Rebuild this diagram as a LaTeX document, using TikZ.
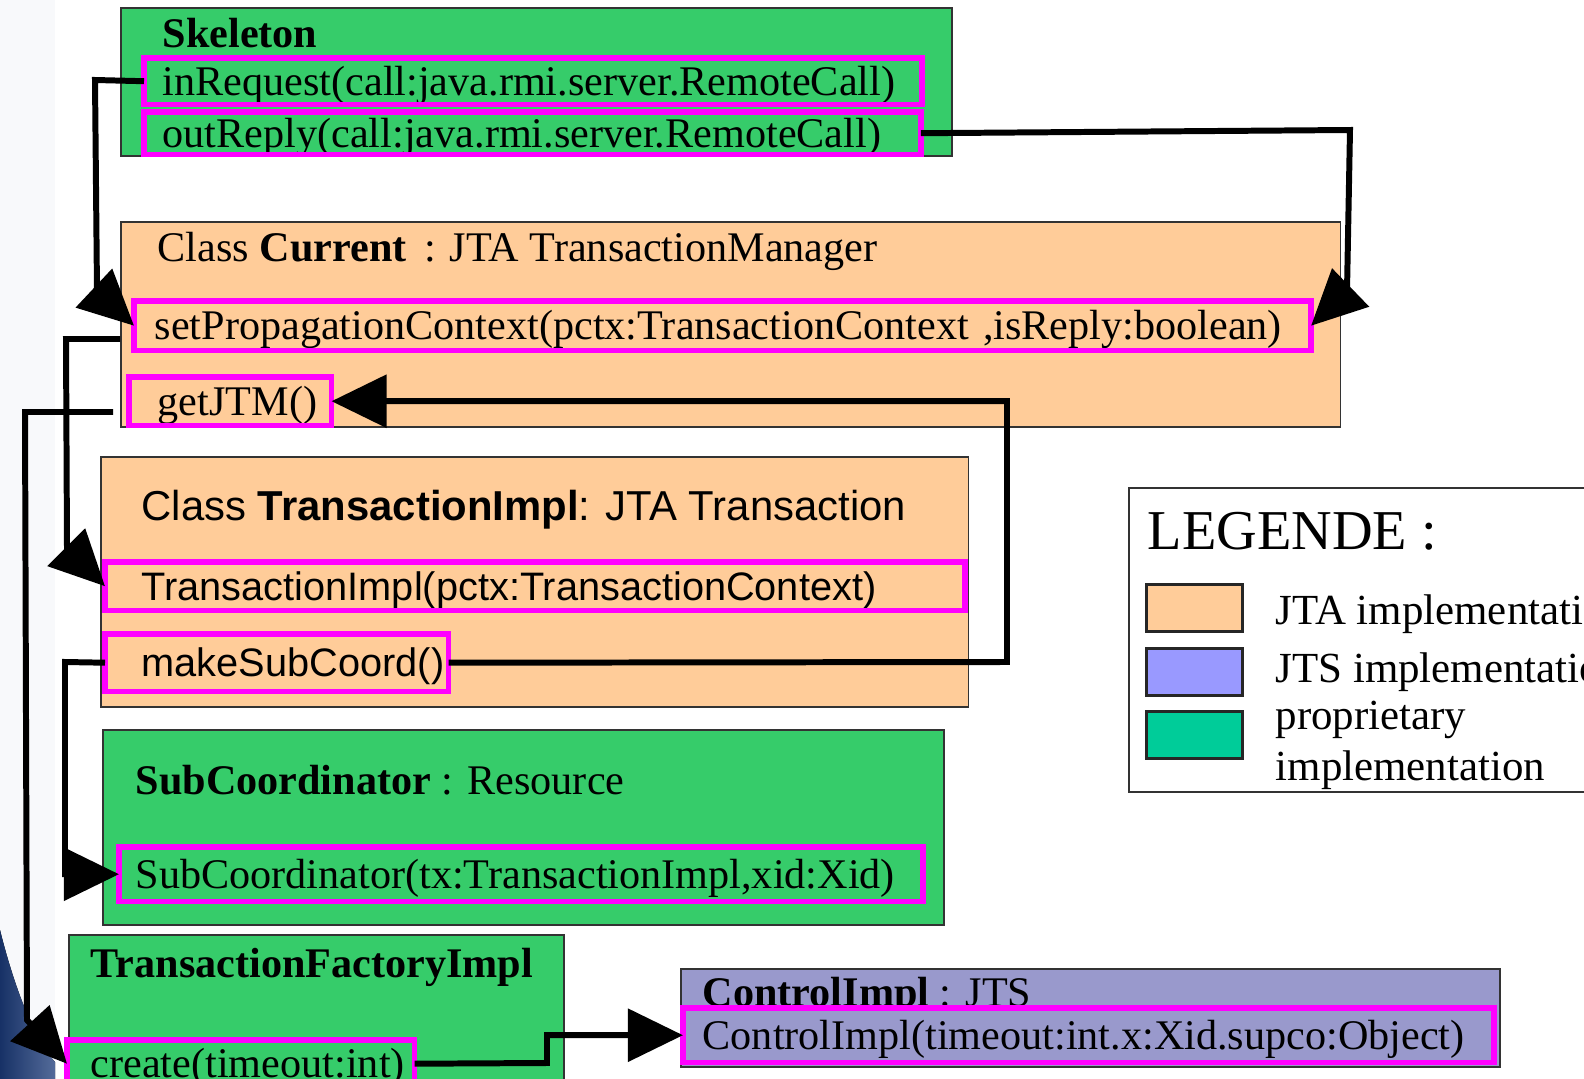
\documentclass[tikz,border=0pt]{standalone}
\usepackage{fontspec}
\setmainfont{Liberation Serif}
\setsansfont{Liberation Sans}
\usetikzlibrary{arrows.meta, positioning, calc}

\definecolor{propgreen}{HTML}{36CC6A}
\definecolor{jtaorange}{HTML}{FFCC99}
\definecolor{jtspurple}{HTML}{9999CC}
\definecolor{jtsblue}{HTML}{9999FF}
\definecolor{propteal}{HTML}{00CC99}
\definecolor{hilite}{HTML}{FF00FF}
\definecolor{slideblue}{HTML}{1B3A78}

\newcommand{\umlserif}{\fontsize{12}{14}\selectfont}
\newcommand{\umlsans}{\sffamily\fontsize{11.3}{13.5}\selectfont}
\newcommand{\umlsanshead}{\sffamily\fontsize{11.9}{14}\selectfont}
\newcommand{\legendhead}{\fontsize{16}{19}\selectfont}
\newcommand{\legendtext}{\fontsize{12.2}{14.5}\selectfont}

\begin{document}
\begin{tikzpicture}[
    x=0.01cm, y=-0.01cm,
    classbox/.style={rectangle, draw=black!80, line width=0.5pt, anchor=north west, inner sep=0pt},
    clstitle/.style={anchor=base west, inner sep=0pt, font=\umlserif},
    method/.style={rectangle, anchor=north west, inner ysep=0pt, align=left, text height=9.5pt, text depth=1.5pt, font=\umlserif},
    hiframe/.style={draw=hilite, line width=1.6pt},
    swatch/.style={rectangle, draw=black!85, line width=0.8pt, anchor=north west, minimum width=0.96cm, minimum height=0.47cm, inner sep=0pt},
    legtext/.style={anchor=base west, inner sep=0pt, font=\legendtext},
    flow/.style={-{Triangle[length=5.5mm, width=5.2mm]}, line width=1.7pt, draw=black}
  ]
    \useasboundingbox (0,0) rectangle (1584,1079);

    % slide background strip and corner
    \fill[slideblue!3] (0,0) rectangle (55,1079);
    \fill[left color=slideblue!85!black, right color=slideblue!75!white] (0,930) .. controls (15,990) and (35,1040) .. (55,1062) -- (55,1079) -- (0,1079) -- cycle;

    % classes
    \node[classbox, fill=propgreen, minimum width=8.31cm, minimum height=1.48cm] (skel) at (120,7) {};
    \node[classbox, fill=jtaorange, minimum width=12.19cm, minimum height=2.05cm] (cur) at (120,221) {};
    \node[classbox, fill=jtaorange, minimum width=8.67cm, minimum height=2.50cm] (txImpl) at (100,456) {};
    \node[classbox, fill=propgreen, minimum width=8.41cm, minimum height=1.95cm] (subCo) at (102,729) {};
    \node[classbox, fill=propgreen, minimum width=4.95cm, minimum height=1.60cm] (txFac) at (68,934) {};
    \node[classbox, fill=jtspurple, minimum width=8.19cm, minimum height=0.98cm] (ctrl) at (680,968) {};

    \node[clstitle] (skelT) at (162,48) {\textbf{Skeleton}};
    \node[clstitle] (curT) at (157,262) {Class \textbf{Current} \,: JTA TransactionManager};
    \node[clstitle, font=\umlsanshead] (txImplT) at (141,521) {Class \textbf{TransactionImpl}: JTA Transaction};
    \node[clstitle] (subCoT) at (135,794) {\textbf{SubCoordinator} : Resource};
    \node[clstitle] (txFacT) at (90,977) {\textbf{TransactionFactoryImpl}};
    \node[clstitle] (ctrlT) at (702,1006) {\textbf{ControlImpl} : JTS};

    % methods
    \node[method, minimum height=0.45cm, text width=7.40cm, inner xsep=0.18cm] (inReq) at (144,58) {inRequest(call:java.rmi.server.RemoteCall)};
    \node[method, minimum height=0.41cm, text width=7.39cm, inner xsep=0.18cm] (outRep) at (144,112) {outReply(call:java.rmi.server.RemoteCall)};
    \node[method, minimum height=0.48cm, text width=11.35cm, inner xsep=0.20cm] (setProp) at (134,301) {\mbox{setPropagationContext(pctx:TransactionContext ,isReply:boolean)}};
    \node[method, minimum height=0.47cm, text width=1.45cm, inner xsep=0.28cm] (getJTM) at (129,377) {getJTM()};
    \node[method, font=\umlsans, minimum height=0.47cm, text width=7.86cm, inner xsep=0.36cm] (txMeth) at (105,562) {TransactionImpl(pctx:TransactionContext)};
    \node[method, font=\umlsans, minimum height=0.56cm, text width=2.70cm, inner xsep=0.36cm] (mkSub) at (105,634) {makeSubCoord()};
    \node[method, minimum height=0.53cm, text width=7.70cm, inner xsep=0.16cm] (subMeth) at (119,847) {SubCoordinator(tx:TransactionImpl,xid:Xid)};
    \node[method, minimum height=0.46cm, text width=3.00cm, inner xsep=0.23cm] (create) at (67,1040) {create(timeout:int)};
    \node[method, fill=jtspurple, minimum height=0.53cm, text width=7.71cm, inner xsep=0.19cm] (ctrlMeth) at (683,1008) {ControlImpl(timeout:int.x:Xid.supco:Object)};

    \foreach \m in {inReq,outRep,setProp,getJTM,txMeth,mkSub,subMeth,create,ctrlMeth}
      \draw[hiframe] (\m.south west) rectangle (\m.north east);

    % legend
    \node[classbox, fill=white, minimum width=5cm, minimum height=3.04cm] (legend) at (1128,487) {};
    \node[anchor=base west, inner sep=0pt, font=\legendhead] (legendT) at (1147,549) {LEGENDE :};
    \node[swatch, fill=jtaorange] (swJTA) at (1145,583) {};
    \node[swatch, fill=jtsblue] (swJTS) at (1145,647) {};
    \node[swatch, fill=propteal] (swProp) at (1145,710) {};
    \node[legtext] (lgJTA) at (1275,624) {JTA implementation};
    \node[legtext] (lgJTS) at (1275,682) {JTS implementation};
    \node[legtext] (lgProp) at (1275,729) {proprietary};
    \node[legtext] (lgProp2) at (1275,780) {implementation};

    % calls
    \coordinate (curOut) at (120,339);
    \coordinate (jtmOut) at (113,412);
    \draw[flow] (inReq.west) -- (95,80) -- (97,291) -- (setProp.west);
    \draw[flow] (outRep.east) -- (1350,130) -- (1347,291) -- (setProp.east);
    \draw[flow] (curOut) -- (66,339) -- (67,548) -- (txMeth.west);
    \draw[flow] (jtmOut) -- (25,412) -- (27,1020) -- (create.west);
    \draw[flow] (mkSub.east) -- (1007,662) |- (getJTM.east);
    \draw[flow] (mkSub.west) -- (65,662) |- (subMeth.west);
    \draw[flow] (create.east) -- (547,1063) |- (ctrlMeth.west);

\end{tikzpicture}
\end{document}
